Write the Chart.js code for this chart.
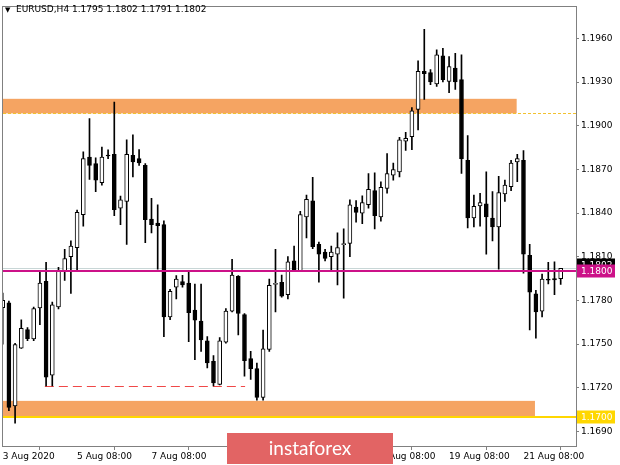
<!DOCTYPE html>
<html><head><meta charset="utf-8">
<script src="https://cdn.jsdelivr.net/npm/chart.js@4.4.0/dist/chart.umd.min.js"></script>
<style>html,body{margin:0;padding:0;background:#fff}#wrap{width:620px;height:465px;position:relative}</style>
</head><body><div id="wrap"><canvas id="c" width="620" height="465"></canvas></div>
<script>
// ---- data (EURUSD H4) ----
const opens = [1.1775,1.17783,1.17076,1.17472,1.17599,1.17536,1.17748,1.17932,1.17287,1.17755,
1.1800,1.1810,1.18163,1.18389,1.18785,1.1874,1.18609,1.18796,1.18803,1.18434,
1.1848,1.18796,1.18774,1.18728,1.18359,1.18332,1.18321,1.17687,1.17891,1.1793,
1.1792,1.17733,1.17658,1.17522,1.17382,1.17223,1.17513,1.17726,1.17966,1.17703,
1.1740,1.17332,1.17133,1.17463,1.1791,1.17925,1.17839,1.18072,1.18004,1.18373,
1.18484,1.18185,1.18133,1.18101,1.18117,1.18183,1.18192,1.18441,1.18400,1.18457,
1.18554,1.18373,1.1857,1.1866,1.18683,1.18894,1.18925,1.19113,1.19373,1.19366,
1.19288,1.1948,1.19305,1.19396,1.19317,1.18762,1.18366,1.1845,1.18463,1.18366,
1.18305,1.18531,1.18582,1.18751,1.18762,1.1811,1.17845,1.17726,1.17946,1.1795,1.1795];
const highs = [1.1785,1.17796,1.17506,1.17667,1.17613,1.17755,1.17993,1.18061,1.17789,1.18027,
1.18151,1.1821,1.18421,1.18821,1.1905,1.1878,1.18853,1.18835,1.19163,1.18516,
1.18903,1.18937,1.18837,1.1874,1.18502,1.18457,1.18346,1.17877,1.1797,1.17972,
1.17993,1.17913,1.17913,1.17551,1.17422,1.17545,1.17744,1.18083,1.1797,1.1771,
1.1745,1.1737,1.17597,1.17947,1.18151,1.17974,1.18101,1.18174,1.18412,1.18524,
1.18645,1.18201,1.18151,1.18174,1.18264,1.18292,1.18491,1.18486,1.18518,1.18672,
1.18677,1.18615,1.18808,1.18744,1.18921,1.18955,1.19125,1.19446,1.19663,1.19385,
1.19521,1.19532,1.19475,1.19498,1.19487,1.18932,1.18524,1.18536,1.18683,1.18548,
1.18653,1.18626,1.18762,1.18803,1.1883,1.18185,1.1787,1.17981,1.18061,1.18065,1.1802];
const lows = [1.1750,1.17042,1.16956,1.1747,1.17524,1.17524,1.17633,1.17212,1.17212,1.17742,
1.17938,1.17849,1.17998,1.1831,1.18631,1.18548,1.18592,1.18774,1.18382,1.18321,
1.18185,1.18649,1.18728,1.18197,1.18264,1.18015,1.17551,1.17667,1.17811,1.17891,
1.17517,1.17393,1.1745,1.17336,1.17212,1.17219,1.17506,1.17721,1.17563,1.1728,
1.17257,1.17115,1.17115,1.1745,1.17721,1.17823,1.17811,1.18,1.18,1.1823,
1.18156,1.17925,1.18072,1.18004,1.17907,1.17816,1.18101,1.18337,1.18328,1.18434,
1.18292,1.18344,1.18536,1.18626,1.18649,1.1883,1.18835,1.18971,1.19181,1.19283,
1.19271,1.19301,1.19227,1.19249,1.18672,1.18298,1.18305,1.1831,1.18117,1.18208,
1.18015,1.1848,1.18554,1.18615,1.17988,1.17597,1.1754,1.17687,1.17913,1.17839,1.1791];
const closes = [1.1780,1.17065,1.17497,1.17608,1.17538,1.17744,1.1792,1.17273,1.17769,1.18006,
1.18088,1.18174,1.18405,1.18774,1.18728,1.18626,1.18785,1.18792,1.18423,1.18491,
1.18803,1.18751,1.18744,1.18355,1.18321,1.18314,1.17687,1.17862,1.17947,1.17907,
1.17716,1.17665,1.17529,1.1737,1.17234,1.17522,1.17726,1.17974,1.1771,1.17386,
1.17332,1.17133,1.17468,1.17903,1.17915,1.1783,1.18065,1.18004,1.18389,1.18495,
1.18169,1.18117,1.18088,1.18133,1.18163,1.18188,1.18457,1.18405,1.18473,1.18563,
1.18382,1.18577,1.18672,1.18699,1.18903,1.18914,1.19102,1.19373,1.19358,1.19301,
1.19487,1.19317,1.19407,1.19301,1.18774,1.18366,1.18446,1.18473,1.18373,1.18305,
1.18541,1.18592,1.18744,1.18774,1.18117,1.17857,1.17721,1.17947,1.1794,1.17941,1.1802];

const xTickIdx = [0,12,24,36,48,60,72,84];
const xTickLabels = ['3 Aug 2020','5 Aug 08:00','7 Aug 08:00','11 Aug 08:00','13 Aug 08:00','17 Aug 08:00','19 Aug 08:00','21 Aug 08:00'];
const yTicks = [1.1690,1.1720,1.1750,1.1780,1.1810,1.1840,1.1870,1.1900,1.1930,1.1960];

const zoneLow  = [1.19085, 1.17004];
const zoneHigh = [1.19185, 1.1711];
const zoneEndBar = [82.9, 85.85];
const keyLevel = 1.1800;
const bidPrice = 1.1802;
const lowLevel = 1.1700;
const zoneEdgeLevel = 1.19085;
const doubleBottom = 1.1721;
const doubleBottomBars = [6.8, 39.1];
const titleSymbol = 'EURUSD,H4';
const titleOHLC = '1.1795 1.1802 1.1791 1.1802';

// ---- chart ----
const FONT = '"DejaVu Sans", sans-serif';
const bodyData = opens.map((o,i)=>({x:i, y:[o, closes[i]]}));
const wickData = highs.map((h,i)=>({x:i, y:[lows[i], h]}));

const overlay = {
  id:'overlay',
  beforeDatasetsDraw(chart){
    const {ctx, chartArea:a, scales:{x,y}} = chart;
    ctx.save();
    ctx.beginPath(); ctx.rect(a.left,a.top,a.right-a.left,a.bottom-a.top); ctx.clip();
    // zones
    ctx.fillStyle = '#F5A462';
    for (let k=0;k<zoneLow.length;k++){
      const y1 = y.getPixelForValue(zoneHigh[k]), y2 = y.getPixelForValue(zoneLow[k]);
      const x2 = x.getPixelForValue(zoneEndBar[k]);
      ctx.fillRect(a.left, y1, x2-a.left, y2-y1);
    }
    // dashed edge line
    ctx.strokeStyle = '#F2C230'; ctx.lineWidth = 1; ctx.setLineDash([3,2]);
    let yy = Math.round(y.getPixelForValue(zoneEdgeLevel))+0.5;
    ctx.beginPath(); ctx.moveTo(a.left,yy); ctx.lineTo(a.right,yy); ctx.stroke();
    // double bottom dashed line
    ctx.strokeStyle = '#F04848'; ctx.setLineDash([9,5]);
    yy = Math.round(y.getPixelForValue(doubleBottom))+0.5;
    ctx.beginPath(); ctx.moveTo(x.getPixelForValue(doubleBottomBars[0]),yy); ctx.lineTo(x.getPixelForValue(doubleBottomBars[1]),yy); ctx.stroke();
    ctx.setLineDash([]);
    // bid line
    ctx.strokeStyle = '#C8D6D6';
    yy = Math.round(y.getPixelForValue(bidPrice))+0.5;
    ctx.beginPath(); ctx.moveTo(a.left,yy); ctx.lineTo(a.right,yy); ctx.stroke();
    // gold line
    ctx.strokeStyle = '#FFD700'; ctx.lineWidth = 2;
    yy = Math.round(y.getPixelForValue(lowLevel));
    ctx.beginPath(); ctx.moveTo(a.left,yy); ctx.lineTo(a.right,yy); ctx.stroke();
    ctx.restore();
  },
  afterDatasetsDraw(chart){
    const {ctx, chartArea:a, scales:{y}} = chart;
    ctx.save();
    ctx.strokeStyle = '#CC1188'; ctx.lineWidth = 2;
    const yy = Math.round(y.getPixelForValue(keyLevel));
    ctx.beginPath(); ctx.moveTo(a.left,yy); ctx.lineTo(a.right,yy); ctx.stroke();
    ctx.restore();
  },
  afterDraw(chart){
    const {ctx, chartArea:a, scales:{y}} = chart;
    ctx.save();
    // frame
    ctx.strokeStyle = '#808080'; ctx.lineWidth = 1;
    ctx.strokeRect(Math.round(a.left)-0.5, Math.round(a.top)-0.5, Math.round(a.right-a.left)+1, Math.round(a.bottom-a.top)+1);
    // axis price boxes
    ctx.font = '9px ' + FONT; ctx.textBaseline = 'middle'; ctx.textAlign = 'left';
    const box = (price, bg, fg, up) => {
      const yc = y.getPixelForValue(price);
      ctx.fillStyle = bg; ctx.fillRect(a.right+1, Math.round(yc)-6.5-up, 38, 13);
      ctx.fillStyle = fg; ctx.fillText(price.toFixed(4), a.right+5, yc+0.5-up);
    };
    box(bidPrice, '#000000', '#FFFFFF', 3);
    box(keyLevel, '#CC1188', '#FFFFFF', 0);
    box(lowLevel, '#FFD700', '#FFFFFF', 0);
    // title
    ctx.fillStyle = '#000';
    ctx.font = '7px ' + FONT; ctx.fillText('▼', 5, 10);
    ctx.font = '9px ' + FONT;
    ctx.fillText(titleSymbol, 16, 10);
    ctx.fillText(titleOHLC, 72, 10);
    // watermark
    ctx.fillStyle = '#E26464';
    ctx.fillRect(227, 433, 166, 31);
    ctx.fillStyle = '#FFFFFF'; ctx.textAlign = 'center';
    ctx.font = '19px Lato, "Open Sans", sans-serif';
    ctx.fillText('instaforex', 310, 449);
    ctx.restore();
  }
};

new Chart(document.getElementById('c'), {
  type:'bar',
  data:{datasets:[
    {label:'body', data: bodyData, grouped:false, barThickness:4, minBarLength:1,
     borderWidth:1, borderColor:'#000', borderSkipped:false, order:0,
     backgroundColor: c => { const r = c.raw; return (r && r.y[1] >= r.y[0]) ? '#FFFFFF' : '#000000'; }},
    {label:'wick', data: wickData, grouped:false, barThickness:1, borderWidth:0,
     backgroundColor:'#000', order:1}
  ]},
  options:{
    responsive:false, animation:false, devicePixelRatio:1,
    layout:{padding:{left:3,top:2,right:0,bottom:0}},
    plugins:{legend:{display:false}, tooltip:{enabled:false}, title:{display:false}},
    scales:{
      x:{type:'linear', min:0.05, max:92.47, offset:false,
         grid:{display:true, drawOnChartArea:false, tickLength:4, color:'#808080'},
         border:{display:false},
         ticks:{autoSkip:false, maxRotation:0, minRotation:0, align:'start', padding:1, color:'#000',
                font:{family:FONT, size:9},
                callback:(v)=>{const k = xTickIdx.indexOf(v); return k>=0 ? xTickLabels[k] : '';}},
         afterBuildTicks:(s)=>{ s.ticks = xTickIdx.map(v=>({value:v})); },
         afterFit:(s)=>{ s.height = 19; }},
      y:{position:'right', min:1.1680, max:1.19813,
         grid:{display:true, drawOnChartArea:false, tickLength:3, color:'#808080'},
         border:{display:false},
         ticks:{padding:2, color:'#000', font:{family:FONT, size:9},
                callback:(v)=>Number(v).toFixed(4)},
         afterBuildTicks:(s)=>{ s.ticks = yTicks.map(v=>({value:v})); },
         afterFit:(s)=>{ s.width = 44; }}
    }
  },
  plugins:[overlay]
});
</script>
</body></html>
